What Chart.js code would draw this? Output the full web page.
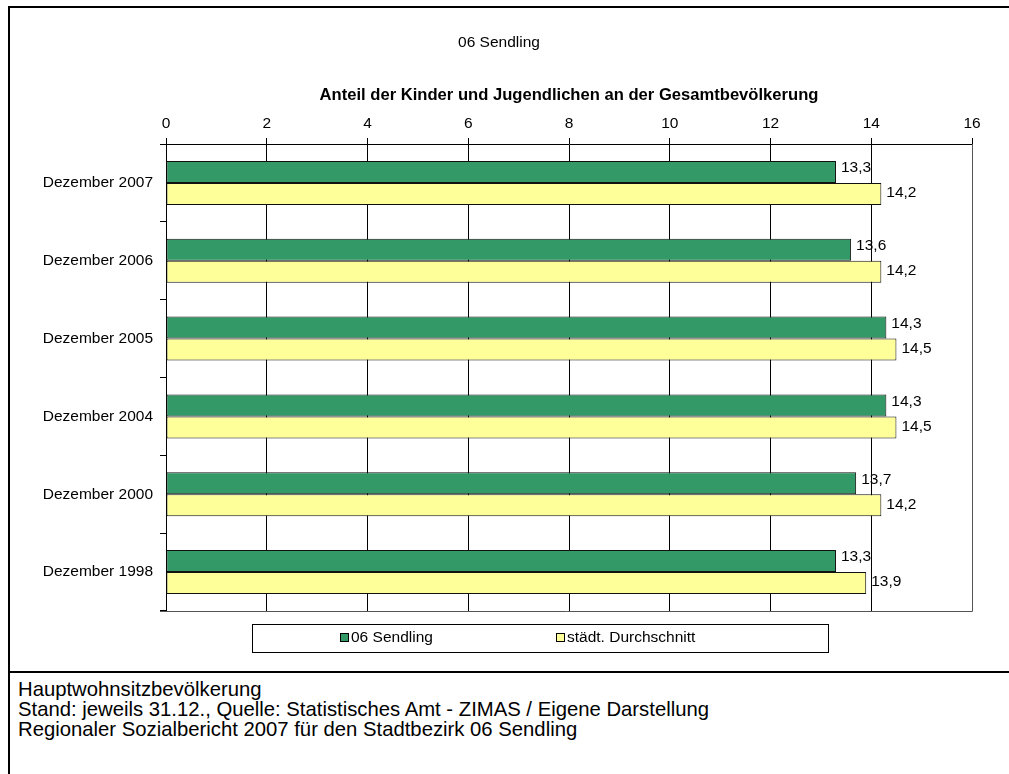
<!DOCTYPE html>
<html>
<head>
<meta charset="utf-8">
<script src="https://cdn.jsdelivr.net/npm/chart.js@4.4.0/dist/chart.umd.min.js"></script>
<style>
body { margin: 0; background: #fff; font-family: Arial, 'Liberation Sans', sans-serif; }
#wrap { position: relative; width: 1009px; height: 774px; overflow: hidden; }
#frame { position: absolute; left: 8px; top: 6px; width: 1100px; height: 800px; border-left: 2px solid #000; border-top: 2px solid #000; }
#divider { position: absolute; left: 8px; top: 671px; width: 1100px; height: 2px; background: #000; }
#foot { position: absolute; left: 18px; top: 679px; font-size: 20.3px; line-height: 20px; color: #000; }
canvas { position: absolute; left: 0; top: 0; }
</style>
</head>
<body>
<div id="wrap">
  <div id="frame"></div>
  <div id="divider"></div>
  <canvas id="canvas" width="1009" height="670"></canvas>
  <div id="foot">
    Hauptwohnsitzbevölkerung<br>
    Stand: jeweils 31.12., Quelle: Statistisches Amt - ZIMAS / Eigene Darstellung<br>
    Regionaler Sozialbericht 2007 für den Stadtbezirk 06 Sendling
  </div>
</div>
<script>
// data
var categories = ['Dezember 2007', 'Dezember 2006', 'Dezember 2005', 'Dezember 2004', 'Dezember 2000', 'Dezember 1998'];
var sendling = [13.3, 13.6, 14.3, 14.3, 13.7, 13.3];
var stadtDurchschnitt = [14.2, 14.2, 14.5, 14.5, 14.2, 13.9];
var seriesNames = ['06 Sendling', 'städt. Durchschnitt'];
var xMin = 0, xMax = 16, xStep = 2;
var chartTitle = '06 Sendling';
var chartSubtitle = 'Anteil der Kinder und Jugendlichen an der Gesamtbevölkerung';

var FONT = "Arial, 'Liberation Sans', sans-serif";
var green = '#339966';
var yellow = '#FFFF99';

// titles, value labels, plot border and boxed legend
var extras = {
    id: 'extras',
    afterDatasetsDraw: function(chart) {
        var ctx = chart.ctx;
        ctx.save();
        ctx.font = '15.5px ' + FONT;
        ctx.fillStyle = '#000';
        ctx.textAlign = 'left';
        ctx.textBaseline = 'middle';
        chart.data.datasets.forEach(function(ds, i) {
            var meta = chart.getDatasetMeta(i);
            var dy = i === 0 ? -4 : -1;
            meta.data.forEach(function(bar, j) {
                var txt = ds.data[j].toFixed(1).replace('.', ',');
                ctx.fillText(txt, bar.x + 5, bar.y + dy);
            });
        });
        ctx.restore();
    },
    afterDraw: function(chart) {
        var ctx = chart.ctx;
        var a = chart.chartArea;
        ctx.save();
        // plot border right / bottom
        ctx.strokeStyle = '#555';
        ctx.lineWidth = 1;
        ctx.beginPath();
        ctx.moveTo(Math.round(a.right) + 0.5, a.top);
        ctx.lineTo(Math.round(a.right) + 0.5, Math.round(a.bottom) + 0.5);
        ctx.lineTo(a.left - 6, Math.round(a.bottom) + 0.5);
        ctx.stroke();

        // titles
        ctx.fillStyle = '#000';
        ctx.textAlign = 'center';
        ctx.textBaseline = 'middle';
        ctx.font = '15.5px ' + FONT;
        ctx.fillText(chartTitle, 499, 43);
        ctx.font = 'bold 16.6px ' + FONT;
        ctx.fillText(chartSubtitle, (a.left + a.right) / 2, 95);

        // legend box
        ctx.strokeStyle = '#000';
        ctx.strokeRect(252.5, 624.5, 576, 28);
        var lx = [340, 556];
        ctx.font = '15.5px ' + FONT;
        ctx.textAlign = 'left';
        chart.data.datasets.forEach(function(ds, i) {
            ctx.fillStyle = ds.backgroundColor;
            ctx.fillRect(lx[i] + 0.5, 633.5, 8, 8);
            ctx.strokeStyle = '#000';
            ctx.strokeRect(lx[i] + 0.5, 633.5, 8, 8);
            ctx.fillStyle = '#000';
            ctx.fillText(ds.label, lx[i] + 11, 638);
        });
        ctx.restore();
    }
};

window.onload = function() {
    var ctx = document.getElementById('canvas').getContext('2d');
    window.myBar = new Chart(ctx, {
        type: 'bar',
        data: {
            labels: categories,
            datasets: [{
                label: seriesNames[0],
                data: sendling,
                backgroundColor: green,
                borderColor: '#111',
                borderWidth: 1,
                borderSkipped: false
            }, {
                label: seriesNames[1],
                data: stadtDurchschnitt,
                backgroundColor: yellow,
                borderColor: '#111',
                borderWidth: 1,
                borderSkipped: false
            }]
        },
        options: {
            indexAxis: 'y',
            responsive: false,
            animation: false,
            categoryPercentage: 0.566,
            barPercentage: 1,
            layout: { padding: { left: 0, right: 37, top: 104, bottom: 59 } },
            plugins: {
                legend: { display: false },
                title: { display: false },
                tooltip: { enabled: false }
            },
            scales: {
                x: {
                    position: 'top',
                    min: xMin,
                    max: xMax,
                    afterFit: function(s) { s.height = 40; },
                    ticks: { stepSize: xStep, color: '#000', padding: 5, font: { family: FONT, size: 15.5 } },
                    grid: { color: '#000', lineWidth: 1, tickLength: 6 },
                    border: { color: '#000', width: 1 }
                },
                y: {
                    afterFit: function(s) { s.width = 166; },
                    ticks: { color: '#000', padding: 7, font: { family: FONT, size: 15.5 } },
                    grid: { offset: true, drawOnChartArea: false, color: '#000', tickLength: 6 },
                    border: { color: '#000', width: 1 }
                }
            }
        },
        plugins: [extras]
    });
};
</script>
</body>
</html>
